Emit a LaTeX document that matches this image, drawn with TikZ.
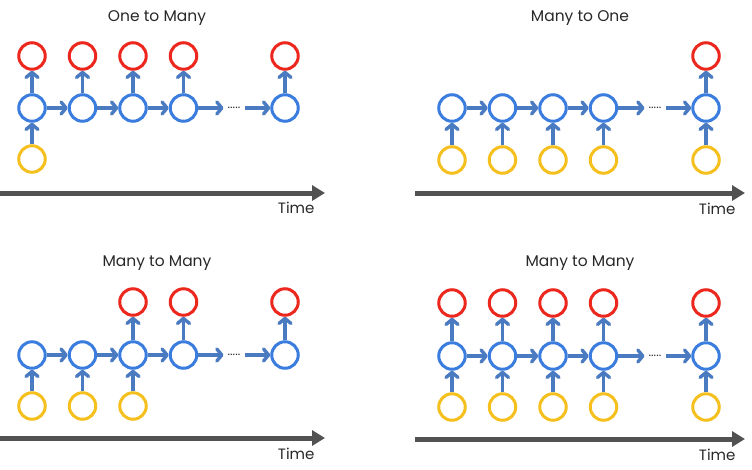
\documentclass[tikz,border=0pt]{standalone}
\usepackage{fontspec}
\setmainfont{Poppins}
\usetikzlibrary{arrows.meta,positioning}
\definecolor{outc}{RGB}{236,40,30}
\definecolor{hidc}{RGB}{58,125,222}
\definecolor{inc}{RGB}{245,192,30}
\definecolor{arrc}{RGB}{74,122,192}
\definecolor{axisc}{RGB}{82,82,82}
\definecolor{textc}{RGB}{40,40,40}

\begin{document}
\begin{tikzpicture}[
  x=1pt,y=-1pt,
  cell/.style={circle,draw,line width=3pt,fill=white,minimum size=26.5pt,inner sep=0pt},
  hid/.style={cell,draw=hidc},
  outp/.style={cell,draw=outc},
  inp/.style={cell,draw=inc},
  ar/.style={arrc,line width=3.4pt,-{Straight Barb[length=5pt,width=12pt,line cap=round,line join=round]}},
  axis/.style={axisc,line width=5pt,-{Triangle[length=13pt,width=15pt]}},
  dotsn/.style={inner sep=4pt,text=textc,font=\fontsize{12}{12}\selectfont},
  ttl/.style={text=textc,font=\fontsize{15.5}{17}\selectfont},
  tlab/.style={text=textc,font=\fontsize{15}{17}\selectfont}
]
\useasboundingbox (0,0) rectangle (752,469);

% one to many
\begin{scope}[shift={(32,108)}]
\foreach \i/\x in {1/0,2/50.5,3/101,4/151.5,5/253}{
  \node[hid] (tlh\i) at (\x,0) {};
  \node[outp] (tlo\i) at (\x,-52) {};
  \draw[ar] (tlh\i) -- (tlo\i);
}
\node[inp] (tli1) at (0,51) {};
\draw[ar] (tli1) -- (tlh1);
\node[dotsn] (tld) at (202,0) {.....};
\end{scope}
\foreach \i/\j in {1/2,2/3,3/4} \draw[ar] (tlh\i) -- (tlh\j);
\draw[ar] (tlh4) -- (tld);
\draw[ar] (tld) -- (tlh5);
\coordinate (tla) at (0,193);
\coordinate (tlb) at (325,193);
\draw[axis] (tla) -- (tlb);
\node[ttl] (tlt) at (157,18) {One to Many};
\node[tlab,anchor=east] (tltime) at (318,208) {Time};

% many to one
\begin{scope}[shift={(452,108)}]
\foreach \i/\x in {1/0,2/50.5,3/101,4/151.5,5/254}{
  \node[hid] (trh\i) at (\x,0) {};
  \node[inp] (tri\i) at (\x,52) {};
  \draw[ar] (tri\i) -- (trh\i);
}
\node[outp] (tro5) at (254,-52) {};
\draw[ar] (trh5) -- (tro5);
\node[dotsn] (trd) at (203,0) {.....};
\end{scope}
\foreach \i/\j in {1/2,2/3,3/4} \draw[ar] (trh\i) -- (trh\j);
\draw[ar] (trh4) -- (trd);
\draw[ar] (trd) -- (trh5);
\coordinate (tra) at (415,193);
\coordinate (trb) at (745,193);
\draw[axis] (tra) -- (trb);
\node[ttl] (trt) at (580,18) {Many to One};
\node[tlab,anchor=east] (trtime) at (739,209) {Time};

% many to many, delayed
\begin{scope}[shift={(32,355)}]
\foreach \i/\x in {1/0,2/50.5,3/101,4/151.5,5/253}{
  \node[hid] (blh\i) at (\x,0) {};
}
\foreach \i/\x in {1/0,2/50.5,3/101}{
  \node[inp] (bli\i) at (\x,51) {};
  \draw[ar] (bli\i) -- (blh\i);
}
\foreach \i/\x in {3/101,4/151.5,5/253}{
  \node[outp] (blo\i) at (\x,-53) {};
  \draw[ar] (blh\i) -- (blo\i);
}
\node[dotsn] (bld) at (202,0) {.....};
\end{scope}
\foreach \i/\j in {1/2,2/3,3/4} \draw[ar] (blh\i) -- (blh\j);
\draw[ar] (blh4) -- (bld);
\draw[ar] (bld) -- (blh5);
\coordinate (bla) at (0,438);
\coordinate (blb) at (325,438);
\draw[axis] (bla) -- (blb);
\node[ttl] (blt) at (157,263) {Many to Many};
\node[tlab,anchor=east] (bltime) at (318,454) {Time};

% many to many, synced
\begin{scope}[shift={(452,356)}]
\foreach \i/\x in {1/0,2/50.5,3/101,4/151.5,5/254}{
  \node[hid] (brh\i) at (\x,0) {};
  \node[outp] (bro\i) at (\x,-53) {};
  \node[inp] (bri\i) at (\x,51) {};
  \draw[ar] (bri\i) -- (brh\i);
  \draw[ar] (brh\i) -- (bro\i);
}
\node[dotsn] (brd) at (203,0) {.....};
\end{scope}
\foreach \i/\j in {1/2,2/3,3/4} \draw[ar] (brh\i) -- (brh\j);
\draw[ar] (brh4) -- (brd);
\draw[ar] (brd) -- (brh5);
\coordinate (bra) at (415,439);
\coordinate (brb) at (745,439);
\draw[axis] (bra) -- (brb);
\node[ttl] (brt) at (580,263) {Many to Many};
\node[tlab,anchor=east] (brtime) at (739,455) {Time};
\end{tikzpicture}
\end{document}
